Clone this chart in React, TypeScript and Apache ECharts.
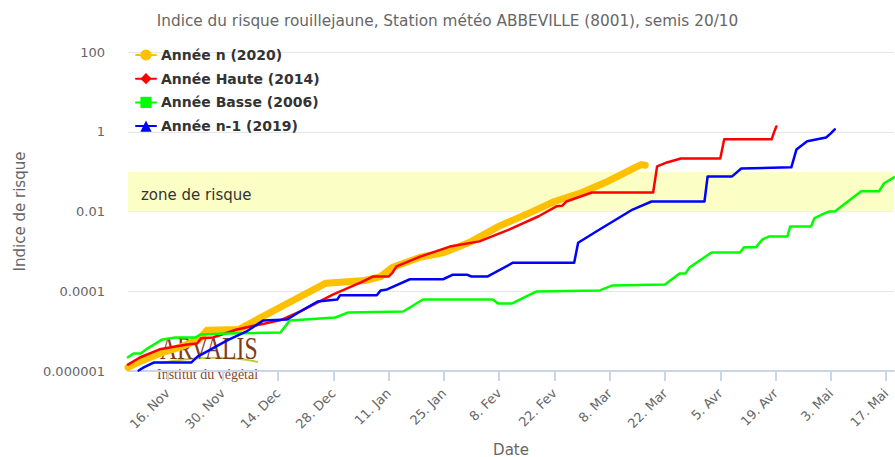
import React, { useEffect, useRef } from 'react';
import * as echarts from 'echarts';

// x = days since 16 Nov
const xTickDays = [0, 14, 28, 42, 56, 70, 84, 98, 112, 126, 140, 154, 168, 182];
const xTickLabels = ['16. Nov', '30. Nov', '14. Dec', '28. Dec', '11. Jan', '25. Jan', '8. Fev', '22. Fev', '8. Mar', '22. Mar', '5. Avr', '19. Avr', '3. Mai', '17. Mai'];
const yTickLabels = ['0.000001', '0.0001', '0.01', '1', '100'];

const seriesNames = ['Année n (2020)', 'Année Haute (2014)', 'Année Basse (2006)', 'Année n-1 (2019)'];

const anneeN: [number, number][] = [
  [-10, 1.23e-6], [-7, 1.74e-6], [-2, 2.75e-6], [3, 3.9e-6], [8, 6.2e-6], [10, 1.05e-5], [18, 1.1e-5],
  [29, 4.2e-5], [40, 1.58e-4], [50, 1.86e-4], [54, 2.34e-4], [57, 4.0e-4], [64, 7.1e-4], [70, 9.3e-4],
  [77, 1.78e-3], [84, 4.3e-3], [92, 9.5e-3], [98, 1.78e-2], [105, 3.0e-2], [111, 5.4e-2], [118, 0.12],
  [120, 0.15], [121, 0.145],
];

const anneeHaute: [number, number][] = [
  [-10, 1.45e-6], [-7, 2.18e-6], [-2, 3.5e-6], [5, 4.6e-6], [7.5, 4.9e-6], [8.5, 6.6e-6], [11.5, 6.9e-6],
  [17.5, 1.1e-5], [23.5, 1.47e-5], [28.5, 1.86e-5], [33.5, 3.1e-5], [42, 8.3e-5], [49, 1.66e-4],
  [52, 2.34e-4], [56, 2.34e-4], [57, 2.95e-4], [58, 4.2e-4], [64, 7.4e-4], [71.5, 1.32e-3], [79, 1.78e-3],
  [86.5, 3.5e-3], [94, 7.6e-3], [98.5, 1.35e-2], [100, 1.4e-2], [101, 1.78e-2], [107.5, 3.0e-2],
  [123, 3.0e-2], [124, 0.135], [126.5, 0.17], [130, 0.214], [140, 0.214], [141, 0.645], [153, 0.645],
  [153.7, 1.02], [154.2, 1.36],
];

const anneeBasse: [number, number][] = [
  [-10, 2.2e-6], [-8.6, 2.75e-6], [-6.8, 2.75e-6], [-5, 3.7e-6], [-1.3, 6.2e-6], [2, 6.9e-6], [7, 6.9e-6],
  [8.3, 8.2e-6], [15.4, 8.7e-6], [28.6, 9.25e-6], [31, 1.86e-5], [42.5, 2.2e-5], [45.8, 2.95e-5],
  [59.7, 3.1e-5], [64.7, 6.2e-5], [82.4, 6.2e-5], [83.7, 4.9e-5], [87.2, 4.9e-5], [89.2, 6.2e-5],
  [93.5, 9.9e-5], [109.5, 1.05e-4], [112.7, 1.4e-4], [126, 1.48e-4], [127, 1.76e-4], [129.7, 2.8e-4],
  [131.2, 2.8e-4], [132.2, 3.95e-4], [137.8, 9.4e-4], [145, 9.4e-4], [146, 1.26e-3], [149, 1.26e-3],
  [150.7, 2.0e-3], [152.4, 2.37e-3], [157, 2.37e-3], [157.7, 4.2e-3], [163, 4.2e-3], [163.8, 6.7e-3],
  [165.8, 8.5e-3], [167.6, 1.0e-2], [169, 1.0e-2], [175.7, 3.2e-2], [180.2, 3.2e-2], [181.5, 5.1e-2],
  [184, 7.2e-2],
];

const anneeN1: [number, number][] = [
  [-7.3, 1.03e-6], [-6, 1.23e-6], [-3.5, 1.63e-6], [6, 1.63e-6], [7.6, 2.3e-6], [11, 3.5e-6], [15, 5.8e-6],
  [20, 9.8e-6], [24.3, 1.86e-5], [30.3, 1.95e-5], [33.6, 3.1e-5], [38, 5.5e-5], [43, 6.2e-5],
  [43.7, 7.9e-5], [53, 7.9e-5], [54, 1.05e-4], [55.6, 1.11e-4], [61.4, 2.0e-4], [69.8, 2.0e-4],
  [72.3, 2.6e-4], [75.8, 2.6e-4], [77, 2.34e-4], [81, 2.34e-4], [87.5, 5.2e-4], [103, 5.2e-4],
  [104, 1.65e-3], [108.7, 3.2e-3], [117.8, 1.12e-2], [122.6, 1.78e-2], [136, 1.78e-2], [136.8, 7.6e-2],
  [143, 7.6e-2], [145.3, 0.12], [158, 0.128], [159.3, 0.36], [162, 0.575], [166.8, 0.72], [168, 0.91],
  [169, 1.15],
];

const riskZone = [0.01, 0.1];

const FONT = '"DejaVu Sans", Verdana, sans-serif';

export default function App() {
  const ref = useRef<HTMLDivElement>(null);
  useEffect(() => {
    document.body.style.margin = '0';
    const chart = echarts.init(ref.current!, null, { renderer: 'svg' });
    const lineSeries = (name: string, data: [number, number][], color: string, width: number, symbol: string, z: number) => ({
      name,
      type: 'line',
      data,
      showSymbol: false,
      symbol,
      symbolSize: 8,
      z,
      lineStyle: { color, width, cap: 'round', join: 'round' },
      itemStyle: { color },
      emphasis: { disabled: true },
    });
    chart.setOption({
      animation: false,
      textStyle: { fontFamily: FONT },
      title: {
        text: 'Indice du risque rouillejaune, Station météo ABBEVILLE (8001), semis 20/10',
        left: 'center',
        top: 8,
        textStyle: { fontFamily: FONT, fontSize: 15.3, fontWeight: 'normal', color: '#666666' },
      },
      legend: {
        orient: 'vertical',
        left: 130,
        top: 43,
        itemGap: 9.7,
        itemWidth: 20,
        itemHeight: 14,
        data: seriesNames,
        textStyle: { fontFamily: FONT, fontSize: 14, fontWeight: 'bold', color: '#333333' },
      },
      grid: { left: 128, right: 1, top: 52, bottom: 86, containLabel: false, outerBoundsMode: 'none' },
      xAxis: {
        type: 'value',
        min: -10,
        max: 184,
        name: 'Date',
        nameLocation: 'middle',
        nameGap: 71,
        nameTextStyle: { fontFamily: FONT, fontSize: 15, color: '#666666' },
        splitLine: { show: false },
        axisLine: { show: true, lineStyle: { color: '#ccd6eb', width: 2 } },
        axisTick: { show: true, length: 10, customValues: xTickDays, lineStyle: { color: '#ccd6eb', width: 2 } },
        axisLabel: {
          customValues: xTickDays,
          rotate: 45,
          margin: 20,
          fontFamily: FONT,
          fontSize: 13,
          color: '#666666',
          formatter: (v: number) => xTickLabels[Math.round(v / 14)] ?? '',
        },
      },
      yAxis: {
        type: 'log',
        logBase: 10,
        min: 1e-6,
        max: 100,
        interval: 2,
        name: 'Indice de risque',
        nameLocation: 'middle',
        nameGap: 101,
        nameTextStyle: { fontFamily: FONT, fontSize: 15, color: '#666666' },
        axisLine: { show: false },
        axisTick: { show: false },
        splitLine: { show: true, lineStyle: { color: '#e6e6e6', width: 1 } },
        axisLabel: {
          margin: 23,
          fontFamily: FONT,
          fontSize: 13,
          color: '#666666',
          formatter: (v: number) => {
            const idx = Math.round((Math.log10(v) + 6) / 2);
            return yTickLabels[idx] ?? '';
          },
        },
      },
      graphic: [
        {
          type: 'bezierCurve',
          z: 0,
          shape: { x1: 160, y1: 363, x2: 258, y2: 362, cpx1: 195, cpy1: 357, cpx2: 230, cpy2: 356 },
          style: { stroke: '#b6cf3d', lineWidth: 2, fill: 'none' },
        },
        {
          type: 'text',
          z: 0,
          x: 160,
          y: 332,
          scaleX: 0.74,
          style: { text: 'ARVALIS', font: '32px "Liberation Serif", serif', fill: '#7e3b1b', textVerticalAlign: 'top' },
        },
        {
          type: 'text',
          z: 0,
          x: 157,
          y: 367,
          style: { text: 'Institut du végétal', font: '14px "Liberation Serif", serif', fill: '#8a4a2a', textVerticalAlign: 'top' },
        },
      ],
      series: [
        {
          ...lineSeries(seriesNames[0], anneeN, '#ffc000', 7, 'circle', 2),
          markArea: {
            silent: true,
            itemStyle: { color: '#fcffc5' },
            label: { show: true, position: 'insideLeft', distance: 13, color: '#333333', fontFamily: FONT, fontSize: 15, offset: [0, 3] },
            data: [[{ name: 'zone de risque', yAxis: riskZone[0] }, { yAxis: riskZone[1] }]],
          },
        },
        lineSeries(seriesNames[1], anneeHaute, '#ff0000', 2.5, 'diamond', 3),
        lineSeries(seriesNames[2], anneeBasse, '#00ff00', 2.5, 'rect', 3),
        lineSeries(seriesNames[3], anneeN1, '#0000ff', 2.5, 'triangle', 3),
      ],
    });
    return () => chart.dispose();
  }, []);
  return <div ref={ref} style={{ width: 895, height: 457 }} />;
}
